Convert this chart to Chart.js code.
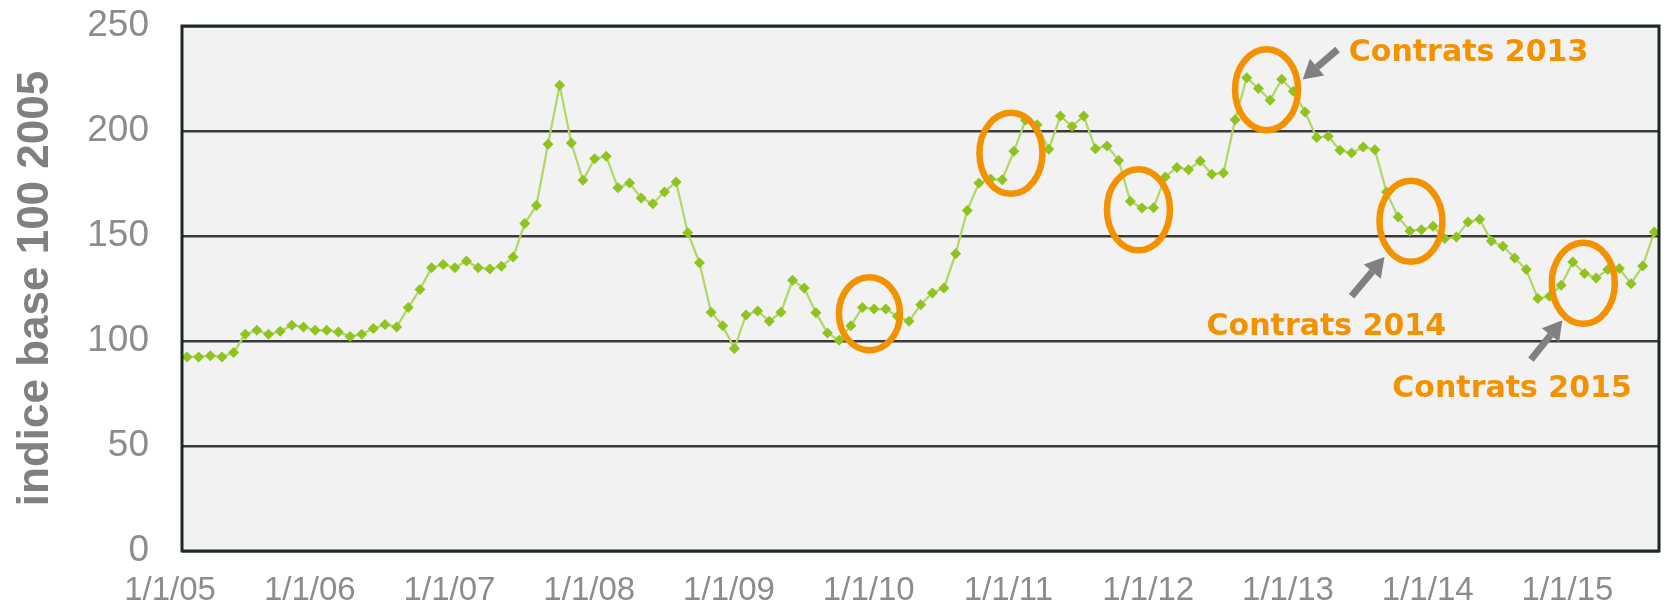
<!DOCTYPE html>
<html><head><meta charset="utf-8">
<script src="https://cdn.jsdelivr.net/npm/chart.js@4.4.0/dist/chart.umd.min.js"></script>
<style>html,body{margin:0;padding:0;background:#fff;}#wrap{width:1669px;height:606px;}</style>
</head><body><div id="wrap"><canvas id="c" width="1669" height="606"></canvas></div>
<script>
// Monthly index (base 100 = 2005), Jan 2005 .. Jul 2015
const prices = [
  92.4, 92.4, 93.0, 92.4, 94.5, 103.2, 105.1, 103.2, 104.6, 107.5,
  106.7, 105.1, 105.1, 104.3, 102.2, 103.2, 105.9, 107.9, 106.7, 115.9,
  124.5, 134.9, 136.4, 134.9, 138.1, 134.9, 134.3, 135.6, 140.0, 155.9,
  164.5, 193.7, 221.8, 194.3, 176.5, 186.8, 188.0, 173.0, 175.2, 168.1,
  165.4, 171.0, 175.7, 151.6, 137.3, 113.7, 107.3, 96.4, 112.4, 114.3,
  109.4, 113.7, 128.9, 125.2, 113.5, 103.8, 100.3, 107.3, 115.9, 115.2,
  115.2, 111.8, 109.4, 117.3, 122.9, 125.2, 141.6, 162.2, 175.2, 177.1,
  176.8, 190.3, 205.1, 203.0, 191.3, 207.1, 202.2, 207.1, 191.6, 192.9,
  186.0, 166.5, 163.3, 163.5, 178.1, 182.6, 181.6, 185.7, 179.4, 180.0,
  205.4, 225.4, 220.2, 214.6, 224.6, 218.9, 209.1, 196.9, 197.5, 190.8,
  189.5, 192.4, 191.1, 171.0, 159.0, 152.4, 153.0, 154.6, 148.8, 149.5,
  156.7, 158.0, 147.6, 145.1, 139.5, 134.0, 120.2, 121.3, 126.5, 137.6,
  132.1, 130.0, 134.0, 134.5, 127.3, 135.7, 151.9
];
const xTickLabels = ['1/1/05','1/1/06','1/1/07','1/1/08','1/1/09','1/1/10','1/1/11','1/1/12','1/1/13','1/1/14','1/1/15'];
const xTickFirst = -1.46;   // position (in months) of the first year label
const xTickStep = 12;
const yTickStep = 50;
const yTitle = 'indice base 100 2005';

// annotations, in data coordinates (month index, index value)
const ellipseX = [58.6, 70.75, 81.7, 92.7, 105.1, 119.9];
const ellipseY = [113.0, 189.4, 162.5, 219.7, 157.0, 127.5];
const arrowFrom = [[98.8, 238.8], [100.0, 121.3], [115.4, 91.1]];
const arrowTo   = [[95.8, 224.5], [102.83, 140.0], [118.1, 109.9]];
const noteText = ['Contrats 2013', 'Contrats 2014', 'Contrats 2015'];
const noteAt   = [[99.76, 233.3], [87.55, 102.7], [103.5, 73.3]];

const ORANGE = '#f39200';
const GREY = '#808080';

const bgPlugin = {
  id: 'bg',
  beforeDraw(chart) {
    const {ctx, chartArea: a} = chart;
    ctx.save();
    ctx.fillStyle = '#f2f2f2';
    ctx.fillRect(a.left, a.top, a.right - a.left, a.bottom - a.top);
    ctx.restore();
  }
};

const annoPlugin = {
  id: 'anno',
  afterDraw(chart) {
    const {ctx, chartArea: a, scales: {x, y}} = chart;
    ctx.save();
    // frame
    ctx.strokeStyle = '#1c2b1c';
    ctx.lineWidth = 3;
    ctx.strokeRect(a.left, a.top, a.right - a.left, a.bottom - a.top);
    // ellipses
    ctx.strokeStyle = ORANGE;
    ctx.lineWidth = 6.5;
    ellipseX.forEach((ex, i) => {
      const cx = x.getPixelForValue(ex), cy = y.getPixelForValue(ellipseY[i]);
      const rx = i === 0 ? 30.5 : 31.5, ry = i === 0 ? 36.5 : 40.5;
      ctx.beginPath();
      ctx.ellipse(cx, cy, rx, ry, 0, 0, Math.PI * 2);
      ctx.stroke();
    });
    // arrows
    arrowFrom.forEach((f, i) => {
      const x0 = x.getPixelForValue(f[0]), y0 = y.getPixelForValue(f[1]);
      const x1 = x.getPixelForValue(arrowTo[i][0]), y1 = y.getPixelForValue(arrowTo[i][1]);
      const ang = Math.atan2(y1 - y0, x1 - x0);
      const headLen = 19, headW = 11;
      const bx = x1 - headLen * Math.cos(ang), by = y1 - headLen * Math.sin(ang);
      ctx.strokeStyle = GREY; ctx.fillStyle = GREY;
      ctx.lineWidth = 7; ctx.lineCap = 'butt';
      ctx.beginPath(); ctx.moveTo(x0, y0); ctx.lineTo(bx, by); ctx.stroke();
      ctx.beginPath();
      ctx.moveTo(x1, y1);
      ctx.lineTo(bx + headW * Math.sin(ang), by - headW * Math.cos(ang));
      ctx.lineTo(bx - headW * Math.sin(ang), by + headW * Math.cos(ang));
      ctx.closePath(); ctx.fill();
    });
    // notes
    ctx.fillStyle = ORANGE;
    ctx.font = 'bold 30px "DejaVu Sans", Verdana, sans-serif';
    ctx.textAlign = 'left'; ctx.textBaseline = 'alphabetic';
    noteText.forEach((t, i) => {
      ctx.fillText(t, x.getPixelForValue(noteAt[i][0]), y.getPixelForValue(noteAt[i][1]));
    });
    ctx.restore();
  }
};

new Chart(document.getElementById('c'), {
  type: 'line',
  data: {
    datasets: [{
      data: prices.map((v, i) => ({x: i, y: v})),
      borderColor: '#b2d663',
      borderWidth: 2.2,
      pointStyle: 'rectRot',
      pointRadius: 5.5,
      pointBackgroundColor: '#8fc31f',
      pointBorderWidth: 0,
      tension: 0
    }]
  },
  options: {
    responsive: false,
    animation: false,
    devicePixelRatio: 1,
    layout: {padding: {top: 26, right: 10, left: 0, bottom: 0}},
    plugins: {legend: {display: false}, tooltip: {enabled: false}},
    scales: {
      x: {
        type: 'linear',
        min: -0.43,
        max: 126.4,
        grid: {display: false, drawTicks: false},
        border: {display: false},
        afterBuildTicks: s => { s.ticks = xTickLabels.map((_, k) => ({value: xTickFirst + xTickStep * k})); },
        afterFit: s => { s.height = 55; s.paddingLeft = 0; s.paddingRight = 0; },
        ticks: {
          autoSkip: false,
          maxRotation: 0,
          padding: 20,
          color: '#8c8c8c',
          font: {family: '"Liberation Sans Narrow", "Liberation Sans", Arial, sans-serif', size: 33},
          callback: (v, i) => xTickLabels[i]
        }
      },
      y: {
        min: 0,
        max: 250,
        grid: {color: '#3a3a3a', lineWidth: 2.6, drawTicks: false},
        border: {display: false},
        afterFit: s => { s.width = 182; s.paddingTop = 0; s.paddingBottom = 0; },
        ticks: {
          stepSize: yTickStep,
          padding: 33,
          color: '#8c8c8c',
          font: {family: '"Liberation Sans", Arial, sans-serif', size: 37}
        },
        title: {
          display: true,
          text: yTitle,
          color: '#808080',
          font: {family: '"Liberation Sans", Arial, sans-serif', size: 44, weight: 'bold'},
          padding: {top: 9, bottom: 0}
        }
      }
    }
  },
  plugins: [bgPlugin, annoPlugin]
});
</script></body></html>
